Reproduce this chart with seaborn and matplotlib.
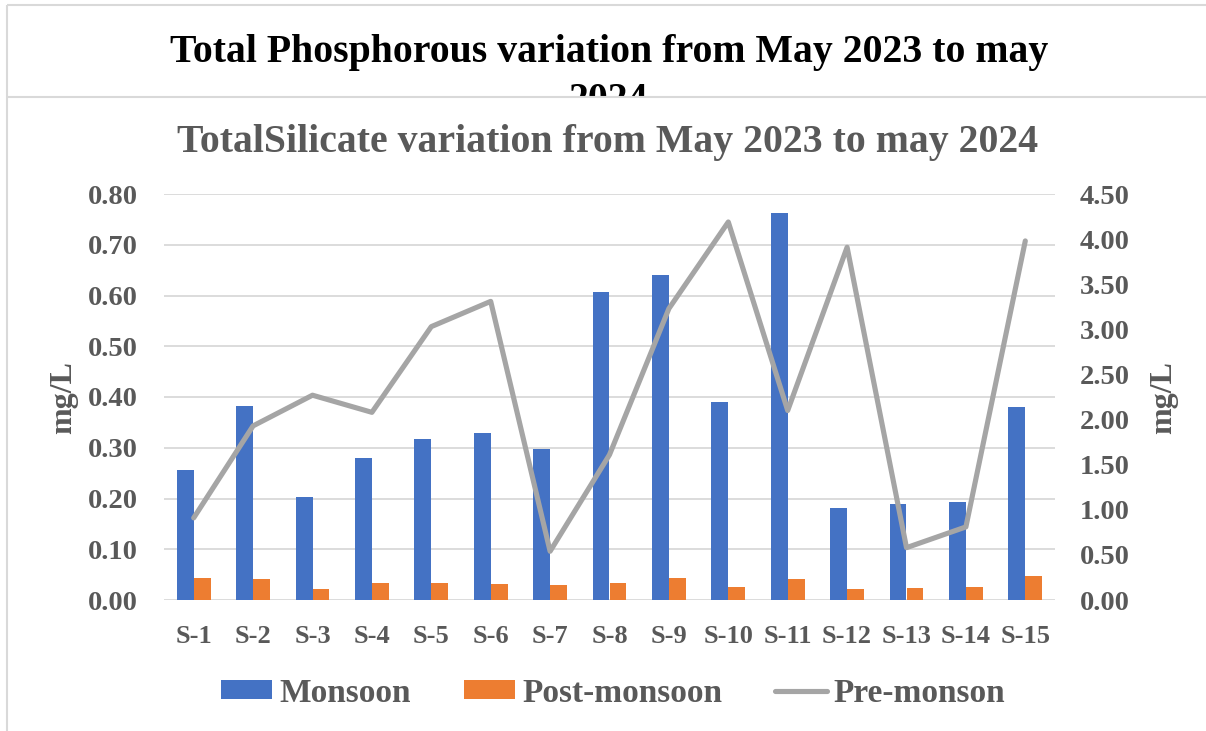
import numpy as np
import pandas as pd
import matplotlib.pyplot as plt
import seaborn as sns
from matplotlib.patches import Rectangle
from matplotlib.lines import Line2D

# values
sites = ["S-1", "S-2", "S-3", "S-4", "S-5", "S-6", "S-7", "S-8",
         "S-9", "S-10", "S-11", "S-12", "S-13", "S-14", "S-15"]
monsoon = [0.257, 0.382, 0.203, 0.279, 0.318, 0.330, 0.298, 0.606,
           0.640, 0.390, 0.762, 0.181, 0.190, 0.194, 0.381]
post_monsoon = [0.044, 0.041, 0.022, 0.034, 0.034, 0.032, 0.029, 0.033,
                0.044, 0.025, 0.042, 0.021, 0.024, 0.026, 0.048]
pre_monsoon = [0.91, 1.93, 2.27, 2.08, 3.03, 3.31, 0.54, 1.61,
               3.23, 4.19, 2.10, 3.91, 0.58, 0.81, 3.98]
left_ticks = [0.0, 0.1, 0.2, 0.3, 0.4, 0.5, 0.6, 0.7, 0.8]
right_ticks = [0.0, 0.5, 1.0, 1.5, 2.0, 2.5, 3.0, 3.5, 4.0, 4.5]

W, H = 1206, 731
GRAY_TXT = "#595959"
FRAME = "#D9D9D9"

sns.set_style("white")
plt.rcParams["font.family"] = ["Liberation Serif", "DejaVu Serif"]
plt.rcParams["font.weight"] = "bold"

df = pd.DataFrame({
    "Site": sites * 2,
    "Season": ["Monsoon"] * len(sites) + ["Post-monsoon"] * len(sites),
    "Value": monsoon + post_monsoon,
})

fig = plt.figure(figsize=(W / 100, H / 100), dpi=100)
fig.patch.set_facecolor("white")
fig.patch.set_edgecolor("white")

# titles of the two overlapping chart boxes
fig.text(609 / W, 1 - 62 / H, "Total Phosphorous variation from May 2023 to may",
         ha="center", va="baseline", fontsize=28.6, fontweight="bold", color="black", zorder=3)
fig.text(608 / W, 1 - 110 / H, "2024",
         ha="center", va="baseline", fontsize=28.6, fontweight="bold", color="black", zorder=3)
# white box of the second chart hides the bottom of the first title
fig.add_artist(Rectangle((7 / W, -0.1), 1.2, (1 - 97 / H) + 0.1, transform=fig.transFigure,
                         facecolor="white", edgecolor="none", zorder=4))
frame_lines = [((7, 1210), (5, 5)), ((7, 7), (5, 740)), ((7, 1210), (97, 97))]
for xs, ys in frame_lines:
    fig.add_artist(Line2D([x / W for x in xs], [1 - y / H for y in ys],
                          transform=fig.transFigure, color=FRAME, lw=1.5,
                          solid_capstyle="butt", zorder=5))
fig.text(608 / W, 1 - 152 / H, "TotalSilicate variation from May 2023 to may 2024",
         ha="center", va="baseline", fontsize=28.6, fontweight="bold", color=GRAY_TXT, zorder=6)

ax = fig.add_axes([164 / W, 1 - 600 / H, (1055 - 164) / W, (600 - 194) / H])
ax.set_zorder(10)
ax.patch.set_alpha(0)

sns.barplot(data=df, x="Site", y="Value", hue="Season",
            palette={"Monsoon": "#4472C4", "Post-monsoon": "#ED7D31"},
            width=0.57, saturation=1, linewidth=0, errorbar=None, ax=ax)

ax2 = ax.twinx()
ax2.set_zorder(11)
sns.lineplot(x=np.arange(len(sites)), y=pre_monsoon, ax=ax2, color="#A5A5A5",
             lw=3.7, label="Pre-monson", solid_joinstyle="round", solid_capstyle="round")

ax.set_xlim(-0.5, len(sites) - 0.5)
ax.set_ylim(0, 0.8)
ax2.set_ylim(0, 4.5)
ax.set_yticks(left_ticks)
ax2.set_yticks(right_ticks)
ax.set_yticklabels([f"{v:.2f}" for v in left_ticks])
ax2.set_yticklabels([f"{v:.2f}" for v in right_ticks])

ax.yaxis.grid(True, color=FRAME, lw=1.3)
ax.set_axisbelow(True)
ax2.grid(False)
for a in (ax, ax2):
    for s in a.spines.values():
        s.set_visible(False)

ax.tick_params(axis="y", length=0, pad=19, labelsize=20.5, labelcolor=GRAY_TXT)
ax.tick_params(axis="x", length=0, pad=18, labelsize=19, labelcolor=GRAY_TXT)
ax2.tick_params(axis="y", length=0, pad=18, labelsize=20.5, labelcolor=GRAY_TXT)
for lab in ax.get_xticklabels() + ax.get_yticklabels() + ax2.get_yticklabels():
    lab.set_fontweight("bold")

ax.set_xlabel("")
ax2.set_xlabel("")
ax.set_ylabel("mg/L", fontsize=23, fontweight="bold", color=GRAY_TXT)
ax2.set_ylabel("mg/L", fontsize=23, fontweight="bold", color=GRAY_TXT, rotation=90)
ax.yaxis.set_label_coords((78 - 164) / 891, 0.5)
ax2.yaxis.set_label_coords((1149 - 164) / 891, 0.5)

# combined legend at the bottom
h1, l1 = ax.get_legend_handles_labels()
h2, l2 = ax2.get_legend_handles_labels()
if ax.get_legend():
    ax.get_legend().remove()
if ax2.get_legend():
    ax2.get_legend().remove()
line_handle = Line2D([], [], color="#A5A5A5", lw=3.7, solid_capstyle="round")
leg = fig.legend(h1 + [line_handle], l1 + l2, loc="center",
                 bbox_to_anchor=(613 / W, 1 - 693 / H), ncol=3, frameon=False,
                 prop={"size": 24, "weight": "bold"}, labelcolor=GRAY_TXT,
                 handlelength=1.55, handleheight=0.48, handletextpad=0.2, columnspacing=1.6)
leg.set_zorder(12)

fig.savefig("out.png", dpi=100)
